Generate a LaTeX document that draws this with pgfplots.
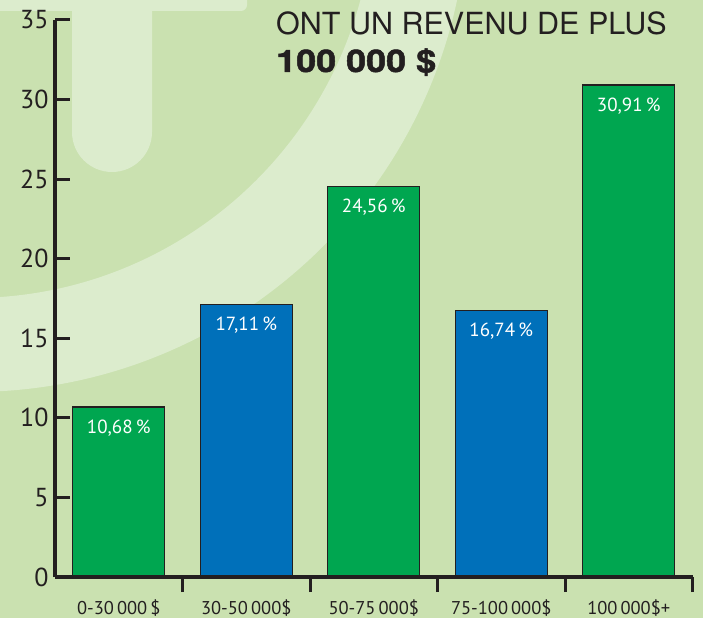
\documentclass[border=0pt]{standalone}
\usepackage{fontspec}
\setmainfont{PT Sans}
\newfontfamily\heros{TeX Gyre Heros}
\newfontfamily\herosbold{TeX Gyre Heros}[FakeStretch=1.16, BoldFeatures={FakeBold=1.6}]
\usepackage{pgfplots}
\pgfplotsset{compat=1.18}
\definecolor{bg}{HTML}{CAE1B0}
\definecolor{wm}{HTML}{DCECCD}
\definecolor{bgreen}{HTML}{00A650}
\definecolor{bblue}{HTML}{0070BA}
\definecolor{ink}{HTML}{231F20}
\begin{document}
\begin{tikzpicture}
\fill[bg] (0,0) rectangle (703pt,618pt);
\begin{scope}
\clip (0,0) rectangle (703pt,618pt);
\fill[wm, even odd rule] (-28pt,722pt) circle (496pt) (-28pt,722pt) circle (402pt);
\fill[wm] (72pt,700pt) -- (72pt,486pt) arc (180:360:40pt) -- (152pt,700pt) -- cycle;
\fill[wm, rounded corners=6pt] (-10pt,607pt) rectangle (247pt,630pt);
\end{scope}
\node[anchor=base west, inner sep=0pt, font=\heros\fontsize{30.5}{30.5}\selectfont, text=ink] at (276pt,583pt) {ONT UN REVENU DE PLUS};
\node[anchor=base west, inner sep=0pt, font=\herosbold\bfseries\fontsize{31}{31}\selectfont, text=ink] at (276pt,546pt) {100 000 \$};
\begin{axis}[
  at={(55pt,41pt)}, anchor=south west, scale only axis,
  width=637.5pt, height=557pt,
  xmin=-0.5, xmax=4.5, ymin=0, ymax=35,
  axis lines=left,
  axis line style={-, line width=3.5pt, ink},
  ytick={0,5,...,35},
  xtick={0.5,1.5,2.5,3.5,4.5}, xticklabels={},
  extra x ticks={0,1,2,3,4},
  extra x tick labels={0-30\,000\,\$,30-50\,000\$,50-75\,000\$,75-100\,000\$,100\,000\$+},
  extra x tick style={major tick length=0pt},
  tick align=inside, major tick length=15pt,
  tick style={line width=3pt, ink},
  yticklabel style={font=\fontsize{26}{26}\selectfont, text=ink, xshift=-3pt},
  xticklabel style={font=\fontsize{18.5}{18.5}\selectfont, text=ink, yshift=-19pt},
  /pgf/number format/assume math mode=true,
  ybar, bar width=92pt, bar shift=0pt,
  axis on top,
  nodes near coords, point meta=explicit symbolic,
  every node near coord/.append style={anchor=north, inner sep=0pt, yshift=-12pt, font=\fontsize{19}{19}\selectfont, text=white},
]
\addplot[fill=bgreen, draw=ink, line width=1.2pt] coordinates {(0,10.68) [10,68\,\%] (2,24.56) [24,56\,\%] (4,30.91) [30,91\,\%]};
\addplot[fill=bblue, draw=ink, line width=1.2pt] coordinates {(1,17.11) [17,11\,\%] (3,16.74) [16,74\,\%]};
\end{axis}
\pgfresetboundingbox
\useasboundingbox (0,0) rectangle (703pt,618pt);
\end{tikzpicture}
\end{document}
